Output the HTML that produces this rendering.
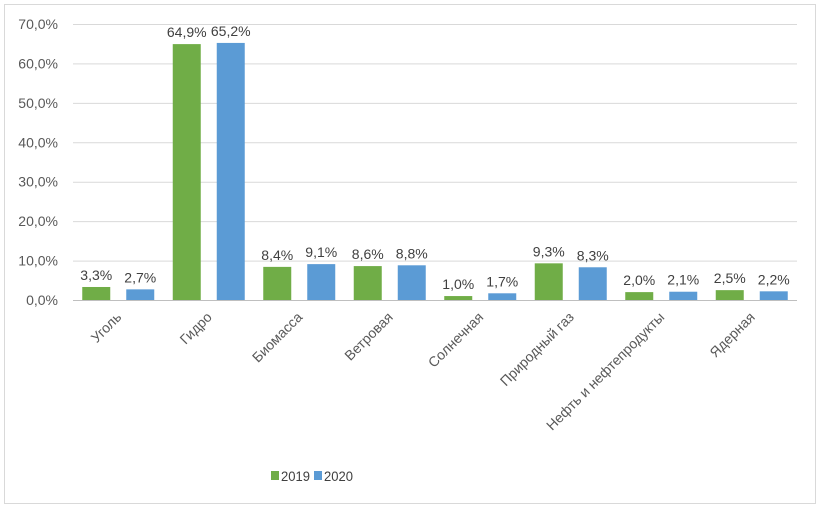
<!DOCTYPE html>
<html><head><meta charset="utf-8"><style>
body{margin:0;background:#fff;}
svg{display:block;font-family:"Liberation Sans","DejaVu Sans",sans-serif;}
</style></head><body>
<svg id="chart" width="821" height="509">
<rect x="4.5" y="4.5" width="811" height="499" fill="#fff" stroke="#d9d9d9"/>
<g id="grid"></g><g id="bars"></g><g id="labels"></g><g id="xlabels"></g>
<g>
<rect x="271" y="471" width="8" height="9" fill="#70ad47"/>
<text x="281" y="481" font-size="14" textLength="29" lengthAdjust="spacingAndGlyphs" fill="#404040">2019</text>
<rect x="314" y="471" width="8" height="9" fill="#5b9bd5"/>
<text x="324" y="481" font-size="14" textLength="29" lengthAdjust="spacingAndGlyphs" fill="#404040">2020</text>
</g>
</svg>
<script>
const categories=["Уголь","Гидро","Биомасса","Ветровая","Солнечная","Природный газ","Нефть и нефтепродукты","Ядерная"];
const values2019=[3.3,64.9,8.4,8.6,1.0,9.3,2.0,2.5];
const values2020=[2.7,65.2,9.1,8.8,1.7,8.3,2.1,2.2];
const yTicks=[0,10,20,30,40,50,60,70];
const NS="http://www.w3.org/2000/svg";
const x0=73,x1=797,y0=300,yTop=24,yMax=70;
const cw=(x1-x0)/categories.length;
const y=v=>y0-(v/yMax)*(y0-yTop);
const fmt=v=>v.toFixed(1).replace('.',',')+'%';
function mk(tag,attrs,parent,txt){const e=document.createElementNS(NS,tag);for(const k in attrs)e.setAttribute(k,attrs[k]);if(txt!==undefined)e.textContent=txt;document.getElementById(parent).appendChild(e);return e;}
yTicks.forEach(t=>{
 const l=mk('line',{x1:x0,x2:x1,y1:y(t)+0.5,y2:y(t)+0.5,stroke:t===0?'#bfbfbf':'#d9d9d9'},'grid');
 
 
 const tx=mk('text',{x:58,y:y(t)+5,'font-size':14,fill:'#595959','text-anchor':'end'},'grid',t.toFixed(1).replace('.',',')+'%');
 
 
});
const bw=28,gap=16;
categories.forEach((c,i)=>{
 const cx=x0+cw*(i+0.5);
 [[values2019[i],'#70ad47',cx-gap/2-bw],[values2020[i],'#5b9bd5',cx+gap/2]].forEach(([v,col,bx],s)=>{
  const r=mk('rect',{x:bx,y:y(v),width:bw,height:y0-y(v),fill:col},'bars');
  
  
  const t=mk('text',{x:bx+bw/2,y:y(v)-7,'font-size':14,fill:'#404040','text-anchor':'middle'},'labels',fmt(v));
  
  
 });
 const xl=mk('text',{x:0,y:0,'font-size':14,fill:'#595959','text-anchor':'end',transform:`translate(${cx+4},${y0+18}) rotate(-45)`},'xlabels',c);
 
 
});
</script>
</body></html>
